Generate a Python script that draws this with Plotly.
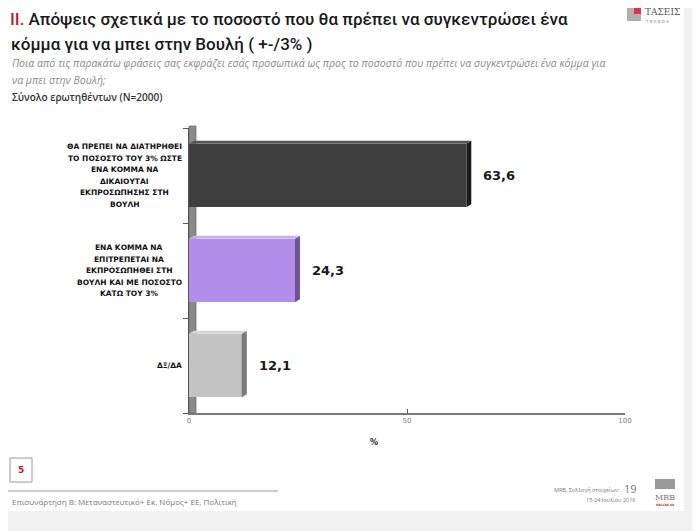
import plotly.graph_objects as go

# ---------------- data ----------------
categories = [
    "ΘΑ ΠΡΕΠΕΙ ΝΑ ΔΙΑΤΗΡΗΘΕΙ<br>ΤΟ ΠΟΣΟΣΤΟ ΤΟΥ 3% ΩΣΤΕ<br>ΕΝΑ ΚΟΜΜΑ ΝΑ<br>ΔΙΚΑΙΟΥΤΑΙ<br>ΕΚΠΡΟΣΩΠΗΣΗΣ ΣΤΗ<br>ΒΟΥΛΗ",
    "ΕΝΑ ΚΟΜΜΑ ΝΑ<br>ΕΠΙΤΡΕΠΕΤΑΙ ΝΑ<br>ΕΚΠΡΟΣΩΠΗΘΕΙ ΣΤΗ<br>ΒΟΥΛΗ ΚΑΙ ΜΕ ΠΟΣΟΣΤΟ<br>ΚΑΤΩ ΤΟΥ 3%",
    "ΔΞ/ΔΑ",
]
values = [63.6, 24.3, 12.1]
x_ticks = [0, 50, 100]
x_tick_labels = ["0", "50", "100"]

face_colors = ["#3f3f3f", "#b18ee9", "#c3c3c3"]
side_colors = ["#1c1c1c", "#6d5496", "#7a7a7a"]
top_colors = ["#555555", "#c7b0f0", "#d6d6d6"]

# ---------------- layout geometry (window pixel coords) ----------------
OFF = 8                      # page body margin
W, H = 700 - OFF, 531 - OFF  # figure size
L, R, T, B = 189, 625, 128, 413


def px(x):
    return (x - L) / (R - L)


def py(y):
    return (B - y) / (B - T)


# approximate DejaVu Sans Bold advance widths (em) to centre label lines in a right-aligned block
CW = {"Α": .758, "Β": .762, "Γ": .637, "Δ": .774, "Ε": .683, "Ζ": .725, "Η": .837, "Θ": .85,
      "Ι": .372, "Κ": .775, "Λ": .774, "Μ": .995, "Ν": .837, "Ξ": .683, "Ο": .85, "Π": .837,
      "Ρ": .733, "Σ": .683, "Τ": .682, "Υ": .724, "Φ": .915, "Χ": .774, "Ψ": .915, "Ω": .85,
      " ": .348, "%": 1.002, "/": .365}


def text_w(s, size):
    return sum(CW.get(ch, .696) for ch in s) * size


pos = list(range(len(categories)))
bar_w = 0.67
d = 5 * 100 / (R - L)          # depth in x data units (~5px)
e = 3 * 3 / (B - T)            # depth in y category units (~3px)

fig = go.Figure()
fig.add_trace(go.Bar(
    x=values, y=pos, orientation="h", width=bar_w,
    marker=dict(color=face_colors, line=dict(width=0)),
    hoverinfo="skip", showlegend=False,
))

shapes = []
# slide background (white) over grey page
shapes.append(dict(type="rect", xref="paper", yref="paper", layer="below",
                   x0=px(0), x1=px(684), y0=py(0), y1=py(511),
                   fillcolor="white", line=dict(width=0)))
# left wall
shapes.append(dict(type="rect", xref="paper", yref="paper", layer="below",
                   x0=px(189), x1=px(196), y0=py(126), y1=py(413),
                   fillcolor="#8a8a8a", line=dict(color="#6e6e6e", width=0.8)))
# 3D side and top faces of bars
for i, v in enumerate(values):
    yt = pos[i] - bar_w / 2
    yb = pos[i] + bar_w / 2
    shapes.append(dict(type="path", xref="x", yref="y", layer="above",
                       path=f"M {v},{yt} L {v + d},{yt - e} L {v + d},{yb - e} L {v},{yb} Z",
                       fillcolor=side_colors[i], line=dict(width=0)))
    shapes.append(dict(type="path", xref="x", yref="y", layer="above",
                       path=f"M 0,{yt} L {d},{yt - e} L {v + d},{yt - e} L {v},{yt} Z",
                       fillcolor=top_colors[i], line=dict(width=0)))
# "5" page box
shapes.append(dict(type="rect", xref="paper", yref="paper",
                   x0=px(10), x1=px(32), y0=py(458), y1=py(482),
                   fillcolor="white", line=dict(color="#9a9a9a", width=1)))
# footer line
shapes.append(dict(type="line", xref="paper", yref="paper",
                   x0=px(0), x1=px(278), y0=py(491), y1=py(491),
                   line=dict(color="#9a9a9a", width=1)))
# logo squares
shapes.append(dict(type="rect", xref="paper", yref="paper",
                   x0=px(627), x1=px(641), y0=py(8), y1=py(21),
                   fillcolor="#b0b0b0", line=dict(width=0)))
shapes.append(dict(type="rect", xref="paper", yref="paper",
                   x0=px(634), x1=px(641), y0=py(8), y1=py(14),
                   fillcolor="#e0305a", line=dict(width=0)))
shapes.append(dict(type="rect", xref="paper", yref="paper",
                   x0=px(655), x1=px(675), y0=py(479), y1=py(489),
                   fillcolor="#9a9a9a", line=dict(width=0)))

ann = []
# value labels
for i, v in enumerate(values):
    ann.append(dict(x=v + d, y=pos[i], xref="x", yref="y", xanchor="left", yanchor="middle",
                    xshift=10, showarrow=False,
                    text=f"<b>{v:.1f}</b>".replace(".", ","),
                    font=dict(family="DejaVu Sans", size=13, color="#1a1a1a")))
# category labels: right-aligned block, lines centred within it
LINE_H = 11.5
LBL_SIZE = 7.5
LBL_RIGHT = 182
for i, c in enumerate(categories):
    lines = c.split("<br>")
    n = len(lines)
    block_w = max(text_w(ln, LBL_SIZE) for ln in lines)
    cx = LBL_RIGHT - block_w / 2
    for k, ln in enumerate(lines):
        ann.append(dict(x=px(cx), y=pos[i], xref="paper", yref="y", xanchor="center", yanchor="middle",
                        yshift=-(k - (n - 1) / 2) * LINE_H,
                        showarrow=False, text=f"<b>{ln}</b>",
                        font=dict(family="DejaVu Sans", size=LBL_SIZE, color="#111111")))
# title
ann.append(dict(x=px(9), y=py(8), xref="paper", yref="paper", xanchor="left", yanchor="top",
                showarrow=False, align="left", borderpad=0,
                text="<span style='color:#b5232a'>II.</span> Απόψεις σχετικά με το ποσοστό που θα πρέπει να συγκεντρώσει ένα",
                font=dict(family="Roboto", size=17, color="#1a1a1a", weight=500)))
ann.append(dict(x=px(9), y=py(44), xref="paper", yref="paper", xanchor="left", yanchor="middle",
                showarrow=False, align="left",
                text="κόμμα για να μπει στην Βουλή ( +-/3% )",
                font=dict(family="Roboto", size=17, color="#1a1a1a", weight=500)))
ann.append(dict(x=px(10), y=py(63), xref="paper", yref="paper", xanchor="left", yanchor="middle",
                showarrow=False,
                text="<i>Ποια από τις παρακάτω φράσεις σας εκφράζει εσάς προσωπικά ως προς το ποσοστό που πρέπει να συγκεντρώσει ένα κόμμα για</i>",
                font=dict(family="Open Sans", size=10.5, color="#8a8a8a")))
ann.append(dict(x=px(10), y=py(80), xref="paper", yref="paper", xanchor="left", yanchor="middle",
                showarrow=False, text="<i>να μπει στην Βουλή;</i>",
                font=dict(family="Open Sans", size=10.5, color="#8a8a8a")))
ann.append(dict(x=px(10), y=py(97), xref="paper", yref="paper", xanchor="left", yanchor="middle",
                showarrow=False, text="Σύνολο ερωτηθέντων (N=2000)",
                font=dict(family="Open Sans", size=10, color="#333333", weight=600)))
# logo text
ann.append(dict(x=px(643), y=py(12), xref="paper", yref="paper", xanchor="left", yanchor="middle",
                showarrow=False, text="ΤΑΣΕΙΣ",
                font=dict(family="DejaVu Serif", size=9, color="#555555")))
ann.append(dict(x=px(643), y=py(22), xref="paper", yref="paper", xanchor="left", yanchor="middle",
                showarrow=False, text="T R E N D S",
                font=dict(family="DejaVu Sans", size=4, color="#888888")))
# x axis title
ann.append(dict(x=px(374), y=py(443), xref="paper", yref="paper", xanchor="center", yanchor="middle",
                showarrow=False, text="<b>%</b>",
                font=dict(family="DejaVu Sans", size=8, color="#222222")))
# footer
ann.append(dict(x=px(21), y=py(470), xref="paper", yref="paper", xanchor="center", yanchor="middle",
                showarrow=False, text="<b>5</b>",
                font=dict(family="DejaVu Sans", size=9, color="#b5232a")))
ann.append(dict(x=px(10), y=py(501), xref="paper", yref="paper", xanchor="left", yanchor="middle",
                showarrow=False, text="Επισυνάρτηση Β: Μεταναστευτικό+ Εκ. Νόμος+ ΕΕ, Πολιτική",
                font=dict(family="Open Sans", size=8, color="#777777")))
ann.append(dict(x=px(622), y=py(490), xref="paper", yref="paper", xanchor="right", yanchor="middle",
                showarrow=False, text="MRB, Συλλογή στοιχείων:",
                font=dict(family="Open Sans", size=5.5, color="#777777")))
ann.append(dict(x=px(622), y=py(488), xref="paper", yref="paper", xanchor="left", yanchor="middle",
                showarrow=False, text="19",
                font=dict(family="Open Sans", size=11, color="#777777")))
ann.append(dict(x=px(610), y=py(500), xref="paper", yref="paper", xanchor="center", yanchor="middle",
                showarrow=False, text="15-24 Ιουλίου 2016",
                font=dict(family="Open Sans", size=5.5, color="#777777")))
ann.append(dict(x=px(665), y=py(497), xref="paper", yref="paper", xanchor="center", yanchor="middle",
                showarrow=False, text="MRB",
                font=dict(family="DejaVu Serif", size=8, color="#777777")))
ann.append(dict(x=px(665), y=py(505), xref="paper", yref="paper", xanchor="center", yanchor="middle",
                showarrow=False, text="<b>HELLAS SA</b>",
                font=dict(family="DejaVu Sans", size=3, color="#b5232a")))

fig.update_layout(
    width=W, height=H,
    margin=dict(l=L - OFF, r=W - (R - OFF), t=T - OFF, b=H - (B - OFF), pad=0),
    paper_bgcolor="#f1f1f1", plot_bgcolor="rgba(0,0,0,0)",
    bargap=0,
    shapes=shapes, annotations=ann,
    xaxis=dict(range=[0, 100], tickvals=x_ticks, ticktext=x_tick_labels,
               showgrid=False, zeroline=False, showline=True, linecolor="#7a7a7a", linewidth=1.5,
               ticks="inside", ticklen=4, tickcolor="#555555",
               tickfont=dict(family="DejaVu Sans", size=7, color="#777777")),
    yaxis=dict(range=[2.5, -0.5], tickvals=[-0.5, 0.5, 1.5, 2.5], showticklabels=False,
               showgrid=False, zeroline=False, showline=True, linecolor="#555555", linewidth=1,
               ticks="outside", ticklen=5, tickcolor="#555555"),
    font=dict(family="DejaVu Sans"),
)

fig.write_html("out.html")
